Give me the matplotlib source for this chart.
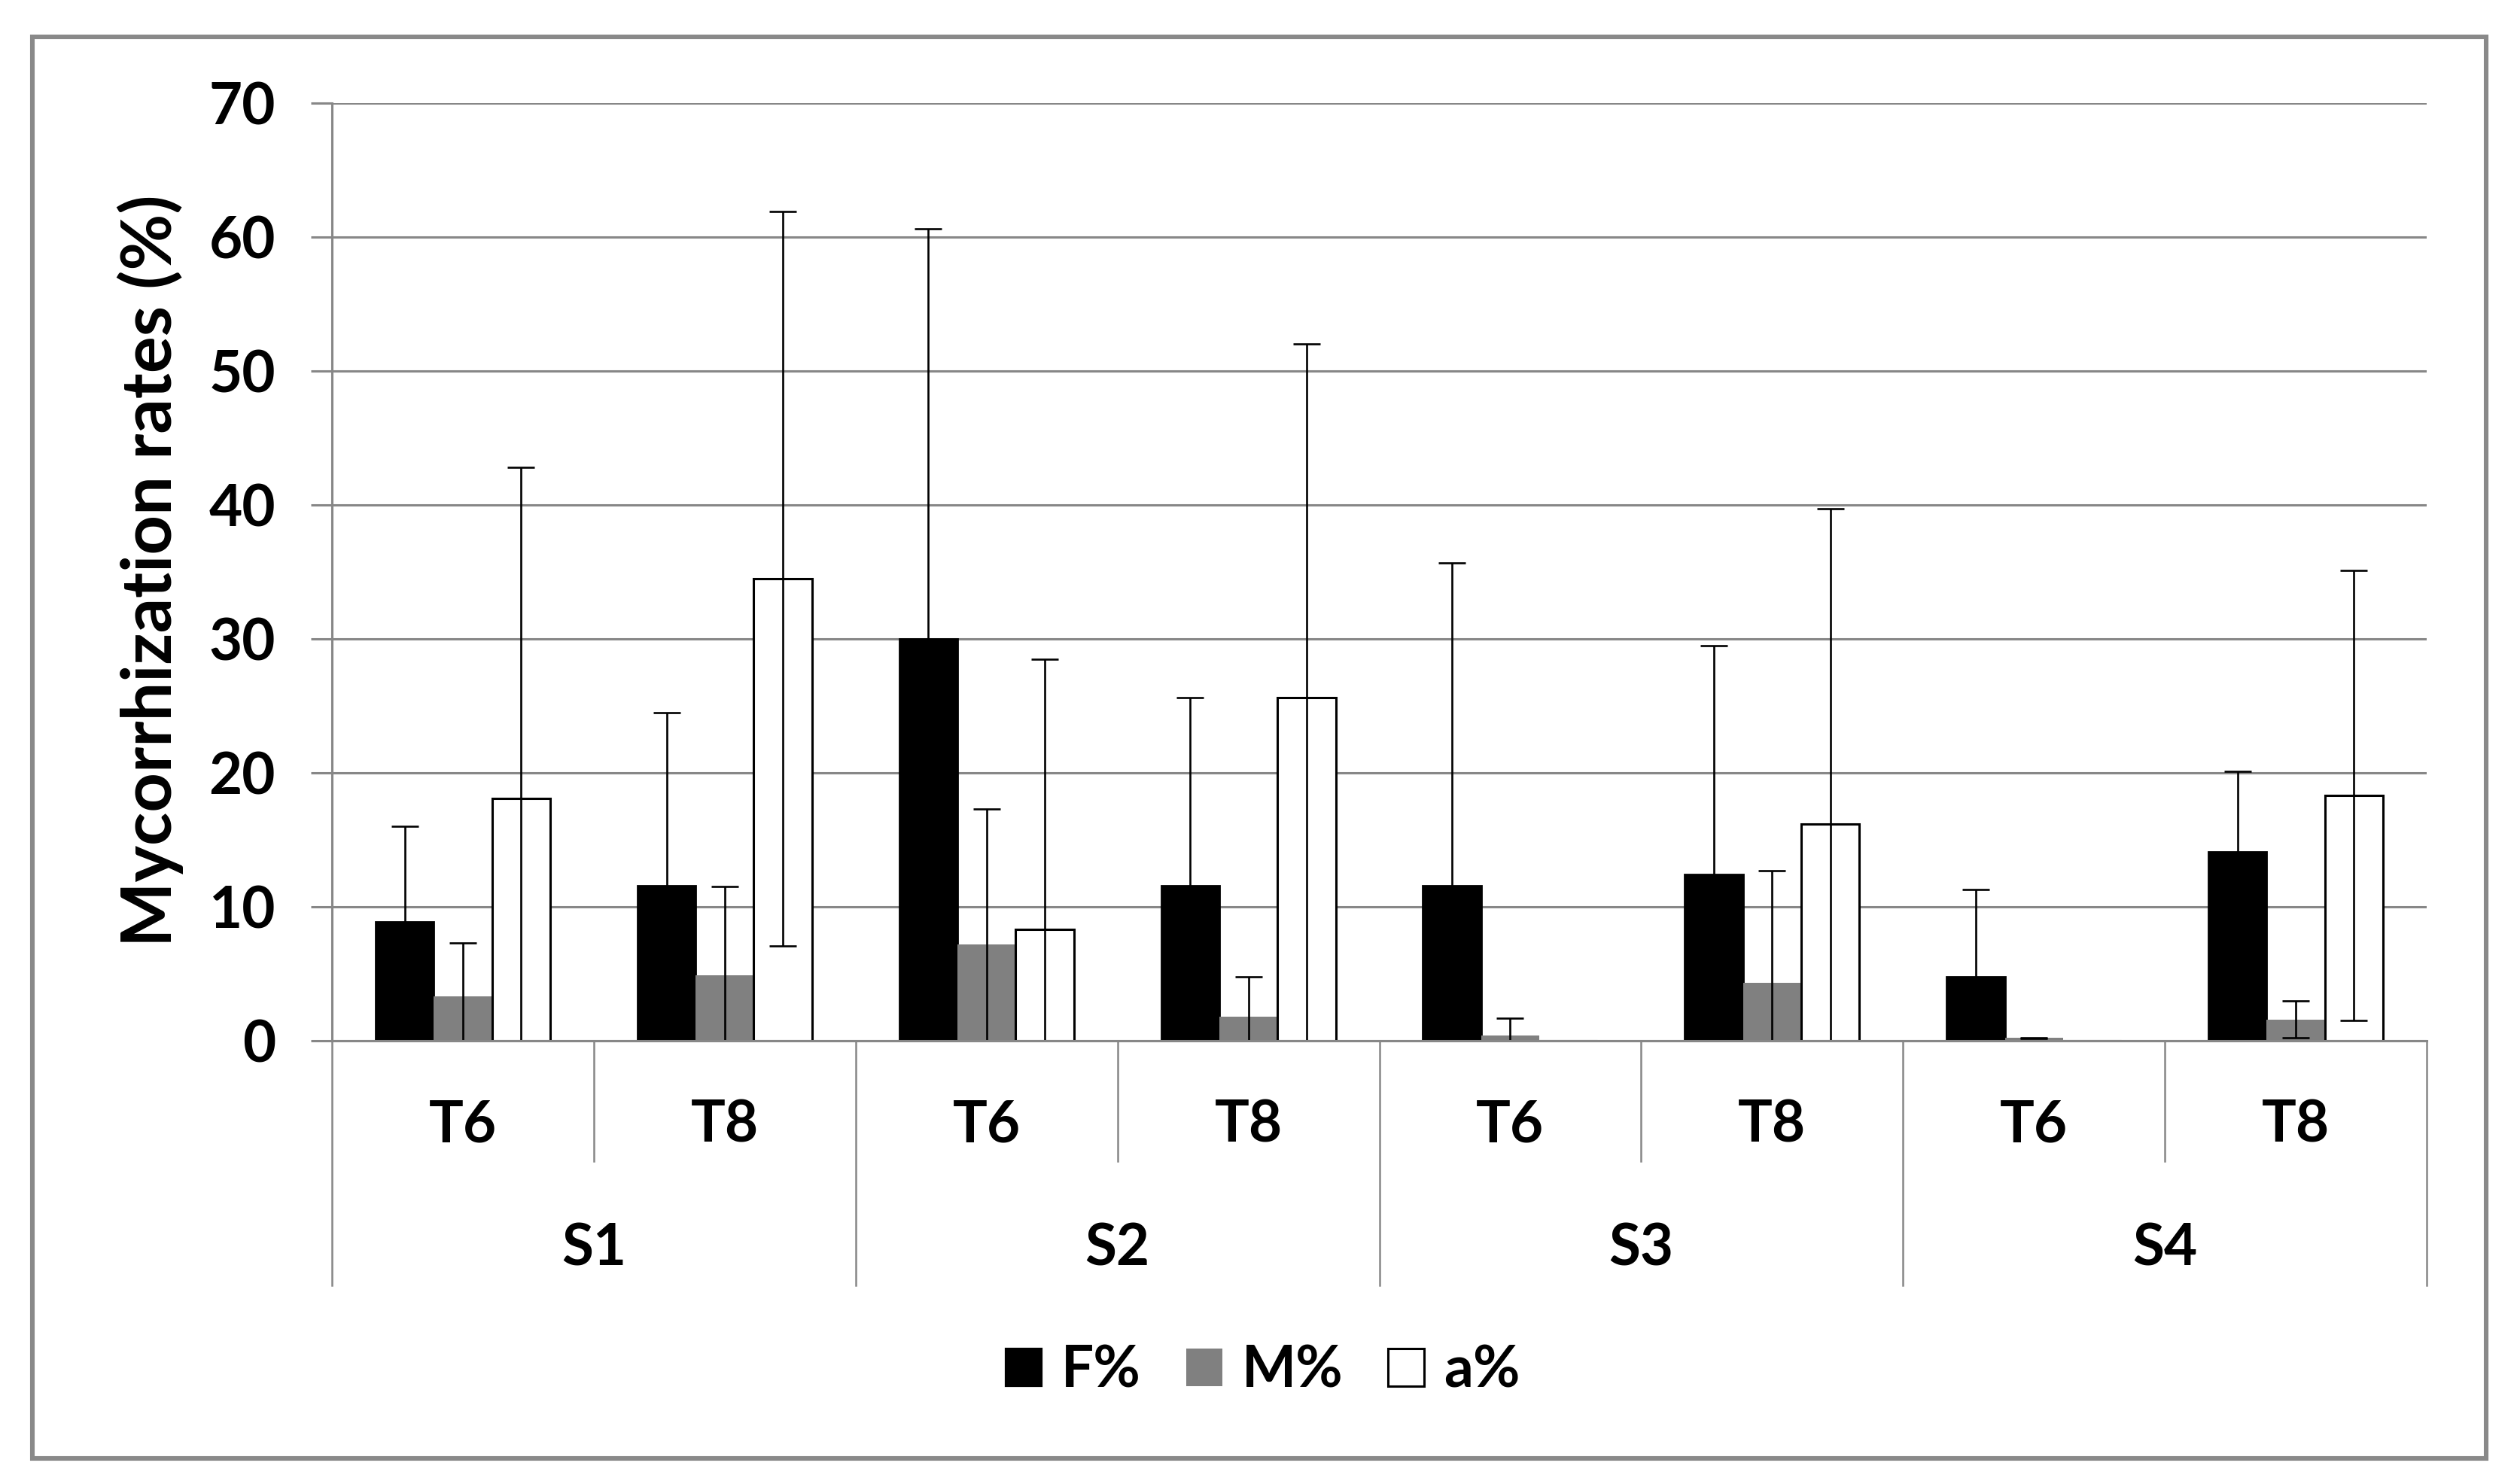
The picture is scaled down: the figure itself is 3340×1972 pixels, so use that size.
import numpy as np
import matplotlib
matplotlib.use("Agg")
import matplotlib.pyplot as plt
import matplotlib.transforms as mtransforms
from matplotlib.patches import Rectangle, Patch
from matplotlib.lines import Line2D

plt.rcParams['font.family'] = ['Lato', 'DejaVu Sans']
plt.rcParams['font.weight'] = 'bold'

# ---------------- data ----------------
sites = ["S1", "S2", "S3", "S4"]
times = ["T6", "T8"]
series_names = ["F%", "M%", "a%"]
F_vals = [8.9, 11.6, 30.0, 11.6, 11.6, 12.4, 4.8, 14.1]
F_sd = [7.1, 12.9, 30.6, 14.0, 24.1, 17.1, 6.5, 6.0]
M_vals = [3.3, 4.9, 7.2, 1.8, 0.4, 4.3, 0.2, 1.6]
M_sd = [4.0, 6.6, 10.1, 3.0, 1.3, 8.4, 0.05, 1.4]
a_vals = [18.1, 34.5, 8.3, 25.6, 0.0, 16.2, 0.0, 18.3]
a_sd = [24.7, 27.4, 20.2, 26.4, np.nan, 23.5, np.nan, 16.8]
y_ticks = [0, 10, 20, 30, 40, 50, 60, 70]
y_label = "Mycorrhization rates (%)"

W, H, DPI = 3340, 1972, 200
fig = plt.figure(figsize=(W / DPI, H / DPI), dpi=DPI)
fig.patch.set_facecolor('white')

def fx(px):
    return px / W

def fy(py):
    return 1 - py / H

ax_left, ax_right, ax_top, ax_bot = 441, 3224, 137, 1383
ax = fig.add_axes([fx(ax_left), fy(ax_bot), (ax_right - ax_left) / W, (ax_bot - ax_top) / H])

grid_col = '#878787'
n = len(F_vals)
x = np.arange(n) + 0.5
bw = 1 / 4.5

series = [
    (F_vals, F_sd, dict(color='black', edgecolor='black', linewidth=1.0)),
    (M_vals, M_sd, dict(color='#808080', edgecolor='none', linewidth=0)),
    (a_vals, a_sd, dict(color='white', edgecolor='black', linewidth=1.1)),
]
for k, (vals, sds, style) in enumerate(series):
    xs = x + (k - 1) * bw
    ax.bar(xs, vals, width=bw, zorder=3, **style)
    ax.errorbar(xs, vals, yerr=sds, fmt='none', ecolor='black', elinewidth=0.95,
                capsize=6.6, capthick=0.95, zorder=4)

ax.set_xlim(0, n)
ax.set_ylim(0, 70)
ax.set_yticks(y_ticks)
ax.set_xticks([])
ax.yaxis.grid(True, color=grid_col, linewidth=1.1, zorder=0)
ax.set_axisbelow(True)
ax.tick_params(axis='y', direction='out', length=10, width=1.1, color=grid_col,
               pad=17, labelsize=27.5)
for lab in ax.get_yticklabels():
    lab.set_fontweight('bold')
for s in ['top', 'right']:
    ax.spines[s].set_visible(False)
for s in ['left', 'bottom']:
    ax.spines[s].set_color(grid_col)
    ax.spines[s].set_linewidth(1.1)
    ax.spines[s].set_zorder(5)

# hierarchical category axis
trans = mtransforms.blended_transform_factory(ax.transData, fig.transFigure)
y_axis0 = fy(ax_bot)
for b in range(n + 1):
    yend = fy(1708) if b % 2 == 0 else fy(1543)
    ax.add_line(Line2D([b, b], [y_axis0, yend], transform=trans, color=grid_col,
                       linewidth=0.9, clip_on=False))
for i in range(n):
    ax.text(x[i], fy(1495), times[i % 2], transform=trans, ha='center', va='center',
            fontsize=27.5, fontweight='bold', color='black')
for j, s in enumerate(sites):
    ax.text(2 * j + 1, fy(1660), s, transform=trans, ha='center', va='center',
            fontsize=27.5, fontweight='bold', color='black')

fig.text(fx(200), fy(758), y_label, rotation=90, ha='center', va='center',
         fontsize=33, fontweight='bold', color='black')

handles = [Patch(facecolor='black', edgecolor='black', linewidth=0.8),
           Patch(facecolor='#808080', edgecolor='none'),
           Patch(facecolor='white', edgecolor='black', linewidth=1.1)]
leg = fig.legend(handles, series_names, loc='center', bbox_to_anchor=(fx(1678), fy(1822)),
                 ncol=3, frameon=False, handlelength=0.63, handleheight=0.63,
                 handletextpad=0.34, columnspacing=0.78,
                 prop={'size': 27.5, 'weight': 'bold'})

# outer border
fig.patches.append(Rectangle((fx(43), fy(1938)), fx(3303) - fx(43), fy(49) - fy(1938),
                             transform=fig.transFigure, fill=False,
                             edgecolor='#898989', linewidth=2.2))

fig.savefig('out.png', dpi=DPI, facecolor='white')
